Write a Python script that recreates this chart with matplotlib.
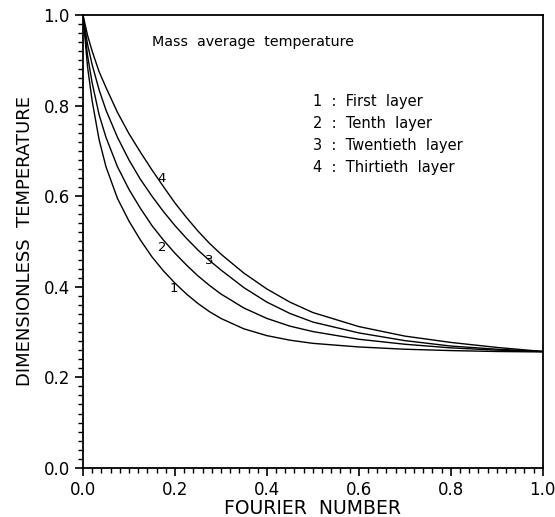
import matplotlib
matplotlib.use("Agg")
import matplotlib.pyplot as plt
from matplotlib.ticker import MultipleLocator, FormatStrFormatter

# Fourier number samples and mass average temperature of each layer
fourier = [0.0, 0.01, 0.02, 0.035, 0.05, 0.075, 0.1, 0.125, 0.15, 0.175, 0.2, 0.225,
           0.25, 0.275, 0.3, 0.35, 0.4, 0.45, 0.5, 0.6, 0.7, 0.8, 0.9, 1.0]
layer1 = [1.0, 0.885, 0.81, 0.725, 0.665, 0.595, 0.545, 0.503, 0.466, 0.435, 0.408, 0.384,
          0.363, 0.345, 0.330, 0.307, 0.292, 0.282, 0.275, 0.267, 0.262, 0.259, 0.257, 0.256]
layer2 = [1.0, 0.91, 0.85, 0.78, 0.73, 0.665, 0.615, 0.573, 0.535, 0.503, 0.474, 0.448,
          0.424, 0.403, 0.384, 0.353, 0.330, 0.313, 0.301, 0.284, 0.273, 0.265, 0.260, 0.257]
layer3 = [1.0, 0.935, 0.89, 0.835, 0.79, 0.73, 0.68, 0.637, 0.60, 0.566, 0.535, 0.507,
          0.481, 0.458, 0.437, 0.398, 0.366, 0.341, 0.322, 0.298, 0.281, 0.269, 0.262, 0.257]
layer4 = [1.0, 0.955, 0.92, 0.875, 0.84, 0.785, 0.738, 0.697, 0.658, 0.621, 0.585, 0.553,
          0.523, 0.496, 0.472, 0.430, 0.395, 0.366, 0.343, 0.312, 0.291, 0.277, 0.266, 0.257]
curves = [layer1, layer2, layer3, layer4]

curve_tags = ["1", "2", "3", "4"]
tag_pos = [(0.198, 0.397), (0.172, 0.486), (0.274, 0.459), (0.172, 0.640)]
legend_lines = ["1  :  First  layer", "2  :  Tenth  layer",
                "3  :  Twentieth  layer", "4  :  Thirtieth  layer"]

fig = plt.figure(figsize=(5.55, 5.17), dpi=100)
ax = fig.add_axes([0.1495, 0.095, 0.8285, 0.876])

for ys in curves:
    ax.plot(fourier, ys, color="black", lw=1.0)

for t, (tx, ty) in zip(curve_tags, tag_pos):
    ax.text(tx, ty, t, fontsize=9.5, ha="center", va="center")

ax.text(0.15, 0.940, "Mass  average  temperature", fontsize=10.3, va="center")
for i, s in enumerate(legend_lines):
    ax.text(0.50, 0.808 - i * 0.048, s, fontsize=10.5, va="center")

ax.set_xlim(0, 1)
ax.set_ylim(0, 1)
ax.xaxis.set_major_locator(MultipleLocator(0.2))
ax.xaxis.set_minor_locator(MultipleLocator(0.02))
ax.yaxis.set_major_locator(MultipleLocator(0.2))
ax.yaxis.set_minor_locator(MultipleLocator(0.02))
ax.xaxis.set_major_formatter(FormatStrFormatter("%.1f"))
ax.yaxis.set_major_formatter(FormatStrFormatter("%.1f"))
ax.tick_params(which="major", direction="out", length=6, width=1.2, labelsize=12)
ax.tick_params(which="minor", direction="out", length=3.5, width=1)
for sp in ax.spines.values():
    sp.set_linewidth(1.3)

ax.set_xlabel("FOURIER  NUMBER", fontsize=13.5, labelpad=0)
ax.set_ylabel("DIMENSIONLESS  TEMPERATURE", fontsize=13, labelpad=7)

fig.savefig("out.png", dpi=100)
